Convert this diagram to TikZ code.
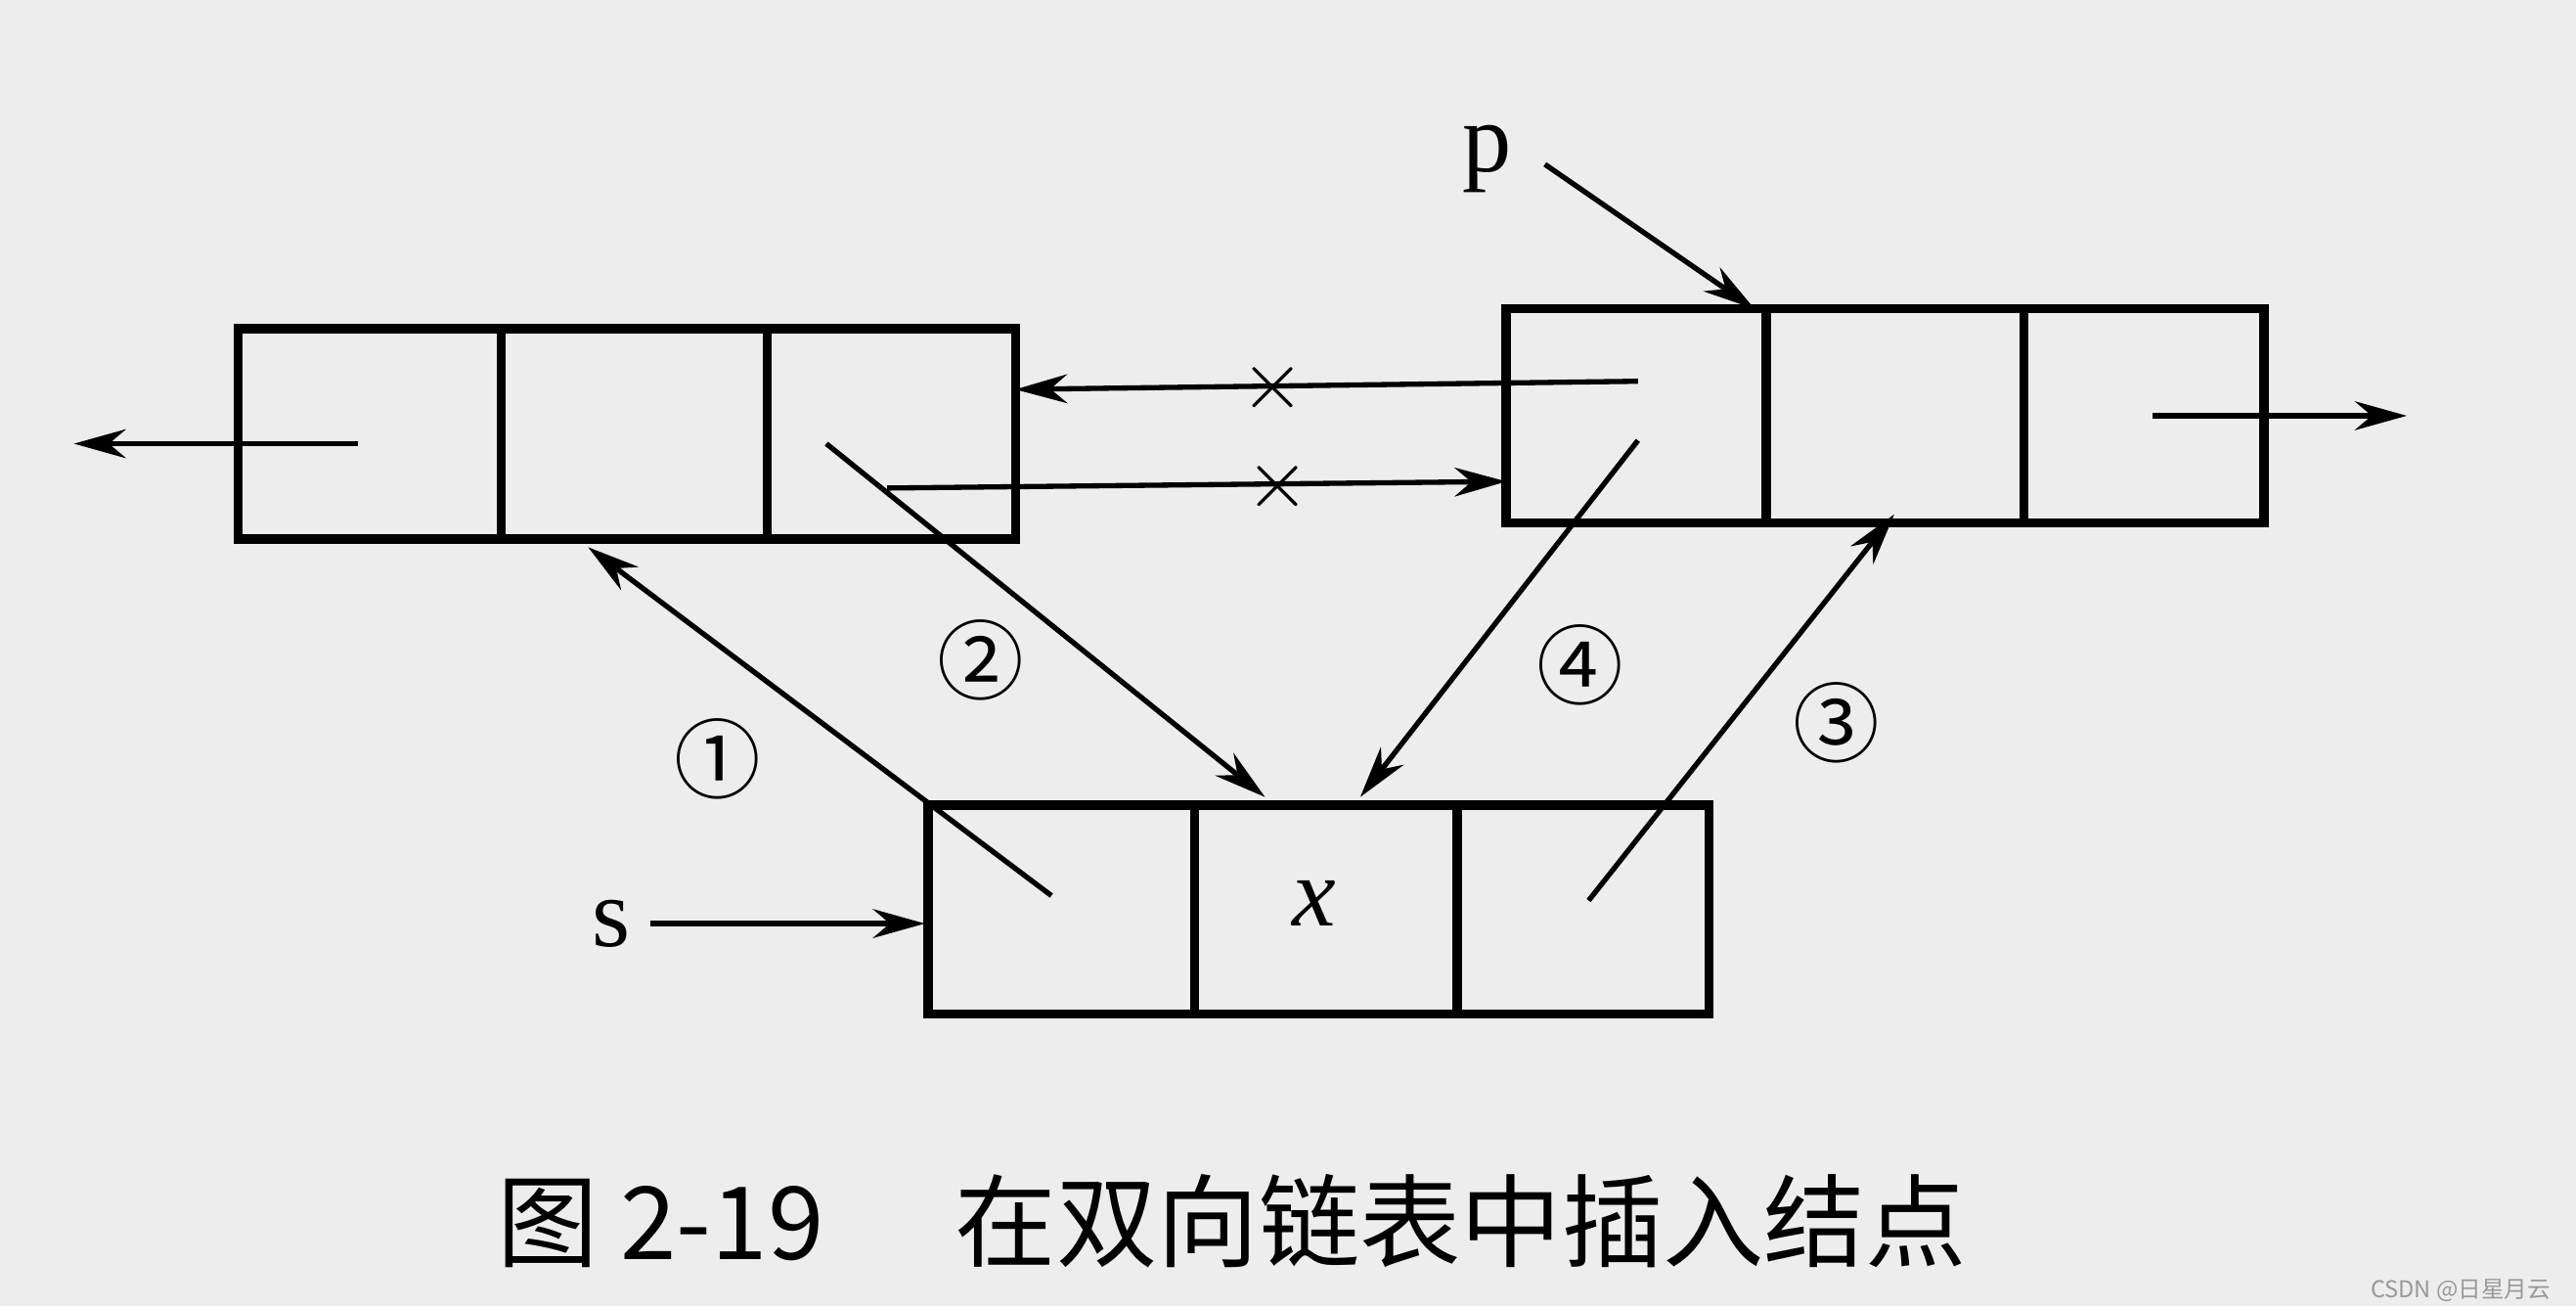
\documentclass[tikz,border=0pt]{standalone}
\usepackage{fontspec}
\setmainfont{Liberation Serif}
\newfontfamily\cjk{Noto Sans CJK SC}
\usetikzlibrary{arrows.meta}
\begin{document}
\begin{tikzpicture}[x=0.01cm,y=-0.01cm,
  box/.style={draw,line width=1.6pt,inner sep=0pt},
  conn/.style={line width=0.9pt,-{Stealth[length=9pt,width=5pt]}},
  lab/.style={font=\fontsize{17}{17}\selectfont},
  num/.style={font=\cjk\fontsize{15}{15}\selectfont},
  xmark/.style={font=\fontsize{14}{14}\selectfont}]
\fill[black!7] (0,0) rectangle (1568,795);
\useasboundingbox (0,0) rectangle (1568,795);
% boxes
\node[box,minimum width=4.73cm,minimum height=1.28cm] (L) at (381.5,264) {};
\draw[line width=1.6pt] (305,200)--(305,328) (467,200)--(467,328);
\node[box,minimum width=4.61cm,minimum height=1.30cm] (R) at (1147.5,253) {};
\draw[line width=1.6pt] (1075,188)--(1075,318) (1232,188)--(1232,318);
\node[box,minimum width=4.75cm,minimum height=1.27cm] (S) at (802.5,553.5) {};
\draw[line width=1.6pt] (727,490)--(727,617) (887,490)--(887,617);
\node[lab,font=\itshape\fontsize{17}{17}\selectfont] (xv) at (800,550) {x};
% coordinates
\coordinate (lp) at (218,270); \coordinate (lpe) at (45,270);
\coordinate (rn) at (1310,253); \coordinate (rne) at (1465,253);
\coordinate (rp) at (997,232); \coordinate (lnext) at (618,237);
\coordinate (ln) at (540,297); \coordinate (rprior) at (917,293);
\coordinate (s1) at (640,545); \coordinate (e1) at (358,333);
\coordinate (s2) at (503,270); \coordinate (e2) at (770,485);
\coordinate (s4) at (997,268); \coordinate (e4) at (828,485);
\coordinate (s3) at (967,548); \coordinate (e3) at (1153,313);
\coordinate (pt) at (1068,188); \coordinate (st) at (563,562);
\draw[conn] (lp)--(lpe);
\draw[conn] (rn)--(rne);
\draw[conn] (rp)--(lnext);
\draw[conn] (ln)--(rprior);
\node[xmark] (x1) at (775,236) {$\times$};
\node[xmark] (x2) at (778,296) {$\times$};
\draw[conn] (s1)--(e1);
\draw[conn] (s2)--(e2);
\draw[conn] (s4)--(e4);
\draw[conn] (s3)--(e3);
\node[num] (n1) at (437,462) {①};
\node[num] (n2) at (597,402) {②};
\node[num] (n4) at (962,405) {④};
\node[num] (n3) at (1118,440) {③};
\node[lab] (p) at (905,97) {p};
\node[lab] (s) at (372,562) {s};
\draw[conn] (p.east)++(8,3) coordinate (pa) -- (pt);
\draw[conn] (s.east)--(st);
\node[font=\cjk\fontsize{17.5}{17.5}\selectfont,anchor=west] (cap) at (290,743) {图 2-19\hspace{1.3em}在双向链表中插入结点};
\node[font=\fontsize{4}{4}\selectfont\cjk,text=black!40,anchor=east] (wm) at (1565,785) {CSDN @日星月云};
\end{tikzpicture}
\end{document}
